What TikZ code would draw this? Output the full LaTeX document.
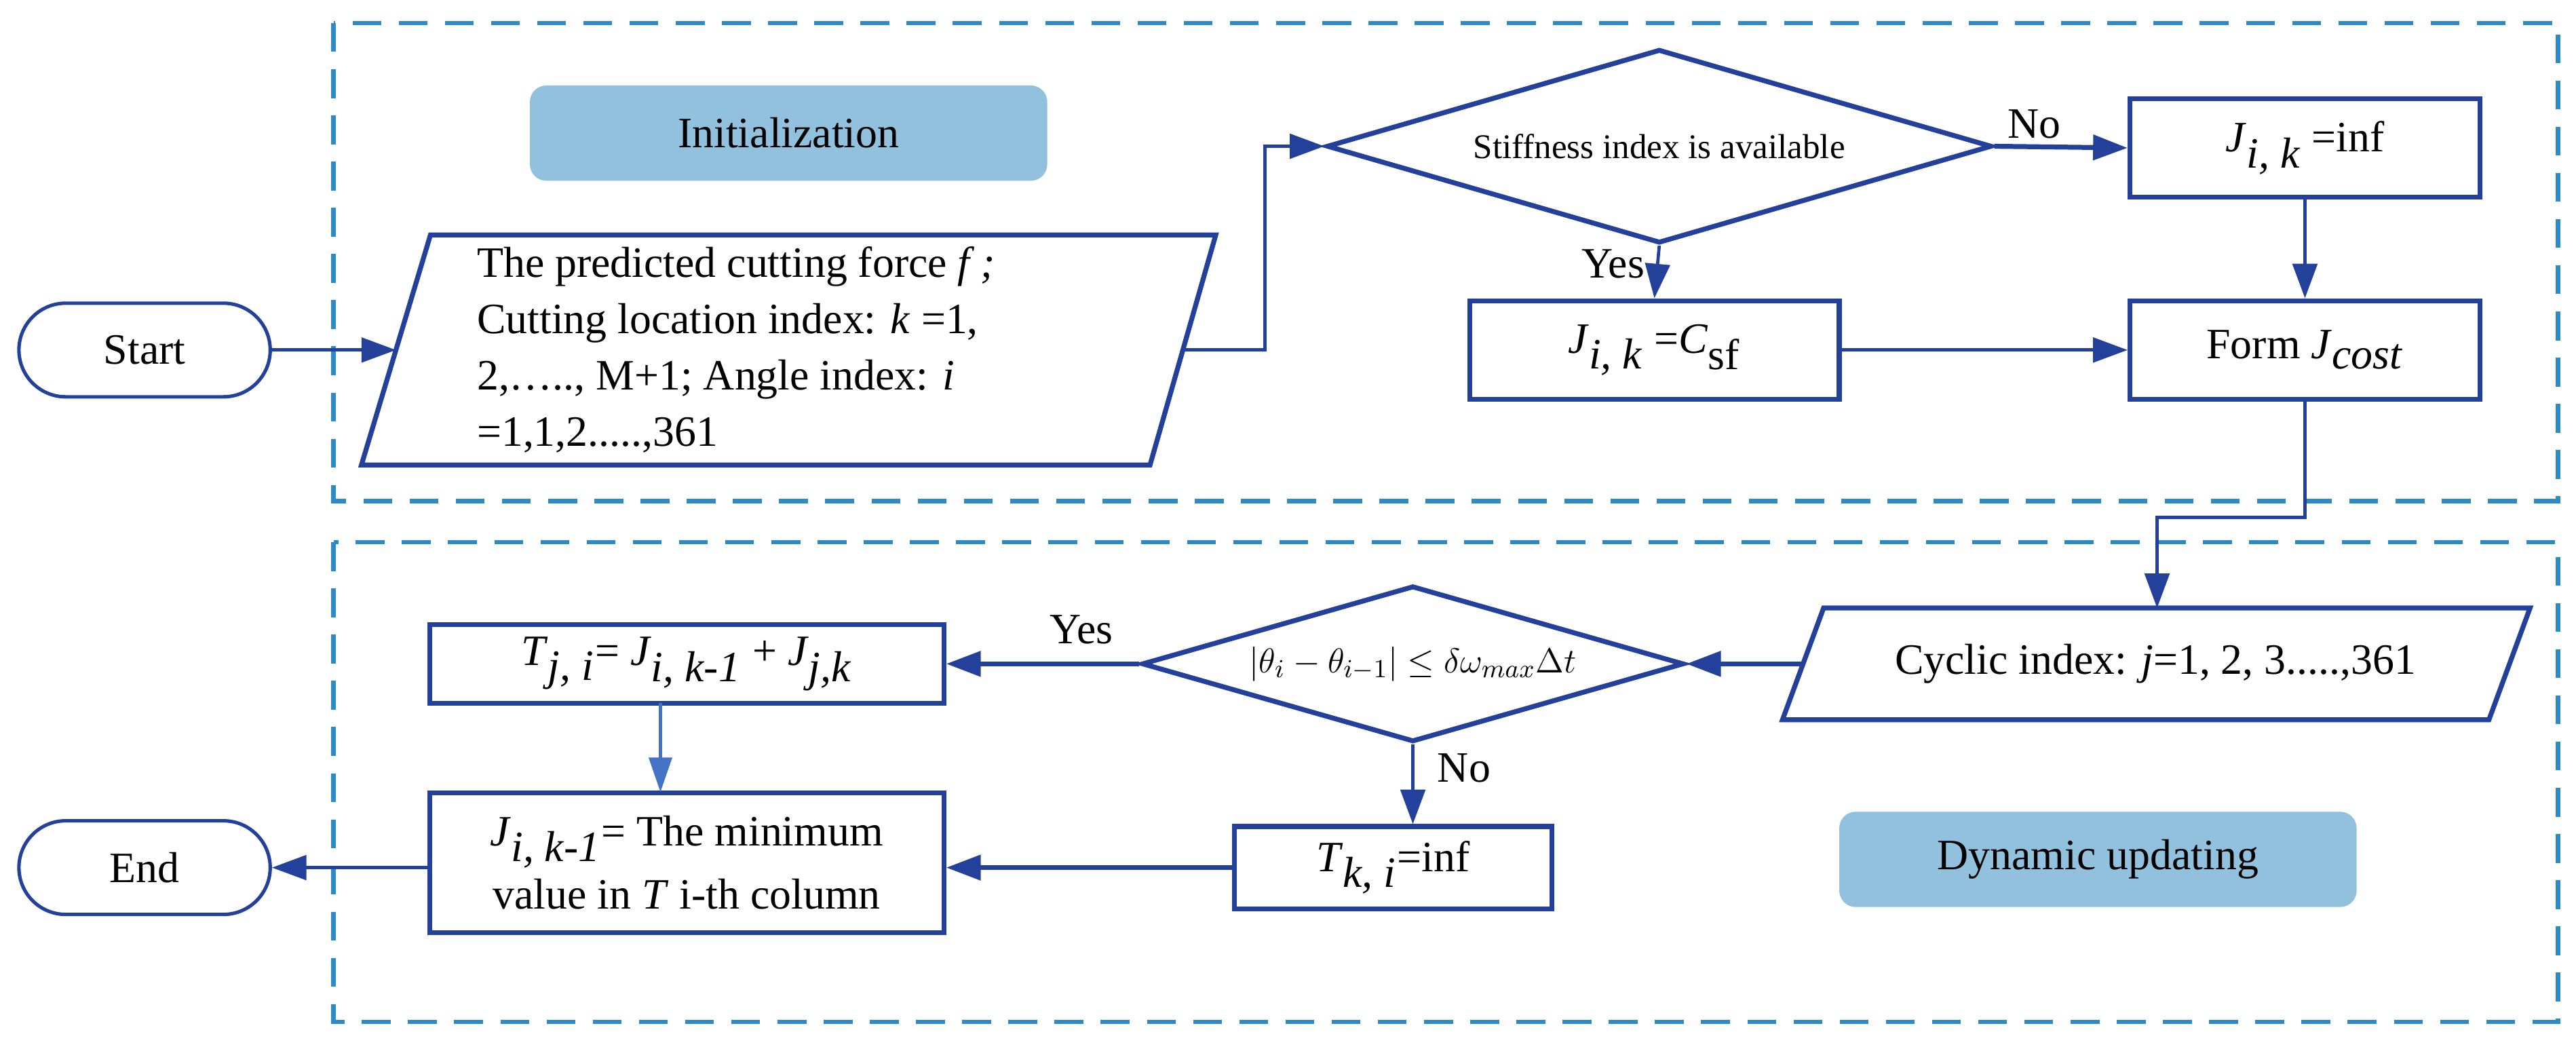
\documentclass[tikz,border=0pt]{standalone}
\usepackage{fontspec}
\setmainfont{Liberation Serif}
\usetikzlibrary{shapes.geometric,arrows.meta}
\definecolor{ln}{HTML}{23409A}
\definecolor{dsh}{HTML}{2C8BC6}
\definecolor{lab}{HTML}{92C1DD}
\definecolor{ln2}{HTML}{4472C4}
\newcommand{\ti}[1]{\textit{#1}}
\begin{document}
\begin{tikzpicture}[x=0.02cm,y=-0.02cm,
  every node/.style={font=\fontsize{15}{18}\selectfont, inner sep=0pt},
  box/.style={draw=ln, line width=1.7pt, rectangle},
  term/.style={draw=ln, line width=1.2pt, rectangle, rounded corners=0.57cm, minimum width=3.06cm, minimum height=1.14cm},
  pline/.style={draw=ln, line width=1.7pt, line join=miter},
  dia/.style={draw=ln, line width=1.7pt, diamond},
  lbl/.style={fill=lab, rounded corners=0.2cm, minimum width=6.3cm, minimum height=1.16cm},
  dbox/.style={draw=dsh, line width=1.5pt, dash pattern=on 10pt off 6pt},
  arr/.style={draw=ln, line width=1.7pt, -{Triangle[length=0.42cm,width=0.3cm]}},
  arrt/.style={draw=ln, line width=1.1pt, -{Triangle[length=0.42cm,width=0.3cm]}}]
\useasboundingbox (0,0) rectangle (1568,637);
\draw[dbox] (203,14) rectangle (1557,305);
\draw[dbox] (203,330) rectangle (1557,622);
\node[lbl] (init) at (480,81) {Initialization};
\node[lbl] (dyn) at (1277,523) {Dynamic updating};
\node[term] (start) at (88,213) {Start};
\node[term] (end) at (88,528) {End};
\draw[pline] (262,143) -- (740,143) -- (700,283) -- (220,283) -- cycle;
\coordinate (p1w) at (241,213);
\coordinate (p1e) at (720,213);
\node[align=left, anchor=west, font=\fontsize{15}{19.5}\selectfont] (p1t) at (290,213) {The predicted cutting force \ti{f ;}\\Cutting location index: \ti{k} =1,\\2,….., M+1; Angle index: \ti{i}\\=1,1,2.....,361};
\node[dia, minimum width=8.1cm, minimum height=2.36cm] (d1) at (1010,89) {};
\node[font=\fontsize{12}{14}\selectfont] (d1t) at (1010,89) {Stiffness index is available};
\node[box, minimum width=4.26cm, minimum height=1.2cm] (jinf) at (1403,90) {\ti{J}$_{\textit{i, k}}$ =inf};
\node[box, minimum width=4.5cm, minimum height=1.2cm] (jcsf) at (1007,213) {\ti{J}$_{\textit{i, k}}$ =\ti{C}$_{\textrm{sf}}$};
\node[box, minimum width=4.26cm, minimum height=1.2cm] (form) at (1403,213) {Form \ti{J}$_{\textit{cost}}$};
\draw[pline] (1110,370) -- (1540,370) -- (1515,438) -- (1085,438) -- cycle;
\coordinate (cycw) at (1097,404);
\coordinate (cycn) at (1313,370);
\node (cyct) at (1312,404) {Cyclic index: \ti{j}=1, 2, 3.....,361};
\node[dia, minimum width=6.6cm, minimum height=1.9cm] (d2) at (860,404) {};
\node[font=\fontsize{13}{15}\selectfont] (d2t) at (860,404) {$\left|\theta_i-\theta_{i-1}\right|\le\delta\omega_{max}\Delta t$};
\node[box, minimum width=6.26cm, minimum height=0.96cm] (tji) at (418,404) {\ti{T}$_{\textit{j, i}}$= \ti{J}$_{\textit{i, k-1}}$ + \ti{J}$_{\textit{j,k}}$};
\node[box, minimum width=3.86cm, minimum height=1.0cm] (tki) at (848,528) {\ti{T}$_{\textit{k, i}}$=inf};
\node[box, minimum width=6.26cm, minimum height=1.7cm, align=center, font=\fontsize{15}{22}\selectfont] (jmin) at (418,525) {\ti{J}$_{\textit{i, k-1}}$= The minimum\\value in \ti{T} i-th column};
\draw[arrt] (start.east) -- (p1w);
\draw[arrt] (p1e) -- (770,213) |- (d1.west);
\draw[arr] (d1.east) -- node[above=2pt, pos=0.3] (no1) {No} (jinf.west);
\draw[arrt] (d1.south) -- node[left=4pt, pos=0.35] (yes1) {Yes} (jcsf.north);
\draw[arrt] (jinf.south) -- (form.north);
\draw[arrt] (jcsf.east) -- (form.west);
\coordinate (c1) at (1403,315);
\draw[arrt] (form.south) -- (c1) -| (cycn);
\draw[arr] (cycw) -- (d2.east);
\draw[arr] (d2.west) -- node[above=6pt, pos=0.3] (yes2) {Yes} (tji.east);
\draw[arrt] (d2.south) -- node[right=8pt, pos=0.3] (no2) {No} (d2.south |- tki.north);
\coordinate (a1) at (402,428);
\coordinate (a2) at (402,482);
\draw[draw=ln2, line width=1pt, -{Triangle[length=0.42cm,width=0.28cm]}] (a1) -- (a2);
\draw[arr] (tki.west) -- (jmin.east |- tki.west);
\draw[arrt] (jmin.west |- end.east) -- (end.east);
\end{tikzpicture}
\end{document}
